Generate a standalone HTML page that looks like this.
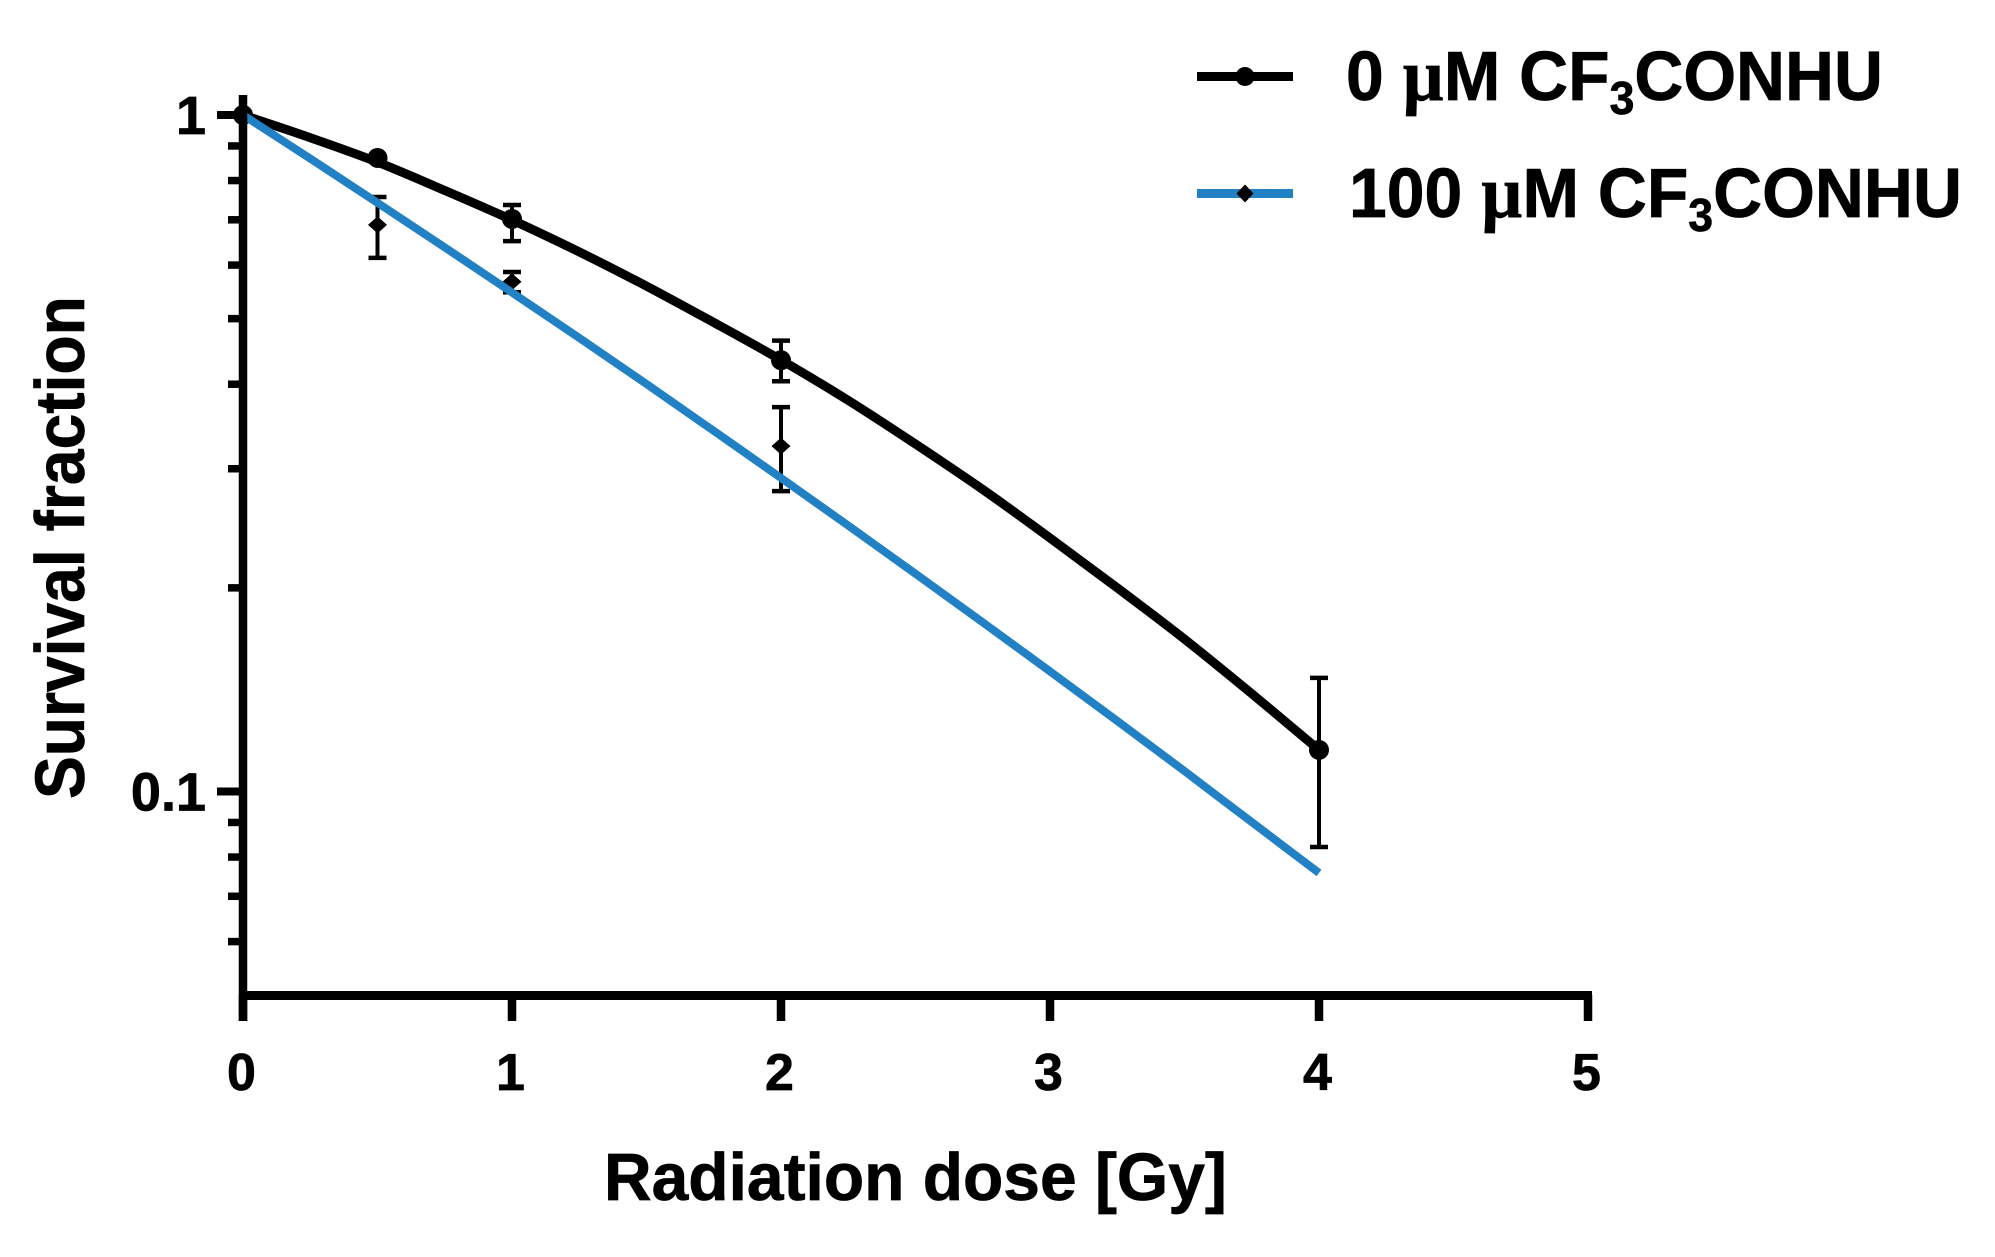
<!DOCTYPE html>
<html lang="en">
<head>
<meta charset="utf-8">
<title>Survival fraction vs radiation dose</title>
<style>
  html, body { margin: 0; padding: 0; background: #fff; }
  svg { display: block; }
  text { font-family: "Liberation Sans", Arial, sans-serif; font-weight: 700; fill: #000; stroke: #000; stroke-width: 0.7px; }
  .mu { font-family: "Liberation Serif", "Times New Roman", serif; font-weight: 700; font-size: 74px; }
  .sub { font-size: 46px; }
</style>
</head>
<body>
<svg id="chart" xmlns="http://www.w3.org/2000/svg" width="1995" height="1257" viewBox="0 0 1995 1257">
  <rect x="0" y="0" width="1995" height="1257" fill="#ffffff"/>
  <g id="errors"></g>
  <g id="curves"></g>
  <g id="axes"></g>
  <text id="xTitle" font-size="67">Radiation dose [Gy]</text>
  <text id="yTitle" font-size="70">Survival fraction</text>
  <g>
    <g>
      <line x1="1197" x2="1293" y1="76.5" y2="76.5" stroke="#000" stroke-width="9"/>
      <circle cx="1245" cy="76.5" r="9.5" fill="#000"/>
      <text id="leg0" font-size="70">0 <tspan class="mu">µ</tspan>M CF<tspan class="sub" dy="14">3</tspan><tspan dy="-14">CONHU</tspan></text>
    </g>
    <g>
      <line x1="1197" x2="1293" y1="193.5" y2="193.5" stroke="#2181c4" stroke-width="9"/>
      <polygon points="1236.5,193.5 1245,184.5 1253.5,193.5 1245,202.5" fill="#000"/>
      <text id="leg1" font-size="70">100 <tspan class="mu">µ</tspan>M CF<tspan class="sub" dy="14">3</tspan><tspan dy="-14">CONHU</tspan></text>
    </g>
  </g>
</svg>
<script>
// ---- data ----
const xTickValues = [0, 1, 2, 3, 4, 5];
const xTickLabels = ["0", "1", "2", "3", "4", "5"];
const yMajorValues = [1, 0.1];
const yMajorLabels = ["1", "0.1"];
const yMinorValues = [0.9, 0.8, 0.7, 0.6, 0.5, 0.4, 0.3, 0.2, 0.09, 0.08, 0.07, 0.06];

const pointDoses = [0, 0.5, 1, 2, 4];
const control = [1, 0.864, 0.702, 0.434, 0.1152];
const controlHigh = [1, 0.864, 0.736, 0.464, 0.1472];
const controlLow = [1, 0.864, 0.651, 0.404, 0.0828];

const treatedDoses = [0, 0.5, 1, 2];
const treated = [1, 0.688, 0.567, 0.324];
const treatedHigh = [1, 0.7565, 0.586, 0.370];
const treatedLow = [1, 0.615, 0.547, 0.278];

const curveDoses = [0, 0.25, 0.5, 0.75, 1, 1.25, 1.5, 1.75, 2, 2.25, 2.5, 2.75, 3, 3.25, 3.5, 3.75, 4];
const controlCurve = [1, 0.9257, 0.852, 0.7735, 0.6996, 0.6275, 0.5585, 0.4935, 0.4343, 0.3785, 0.3263, 0.2795, 0.237, 0.2, 0.168, 0.1395, 0.1152];
const treatedCurve = [1, 0.862, 0.7416, 0.6373, 0.5466, 0.4683, 0.4003, 0.3412, 0.2907, 0.2472, 0.2098, 0.1778, 0.1505, 0.1271, 0.1072, 0.0901, 0.0758];

// ---- axis functions ----
const NS = "http://www.w3.org/2000/svg";
function xPos(d) { return 243 + 269 * d; }
function yPos(v) { return 115 - 676.5 * Math.log10(v); }

function mk(tag, parent, attrs) {
  const el = document.createElementNS(NS, tag);
  for (const k in attrs) el.setAttribute(k, attrs[k]);
  parent.appendChild(el);
  return el;
}

const axes = document.getElementById("axes");
const errors = document.getElementById("errors");
const curves = document.getElementById("curves");

// axis lines
const yAxisLine = mk("line", axes, { x1: 243, x2: 243, y1: 95, y2: 1021, stroke: "#000", "stroke-width": 8.5 });


const xAxisLine = mk("line", axes, { x1: 239, x2: 1592, y1: 995.5, y2: 995.5, stroke: "#000", "stroke-width": 9 });



// x ticks
xTickValues.forEach(function (d, i) {
  const tick = mk("line", axes, { x1: xPos(d), x2: xPos(d), y1: 995, y2: 1021, stroke: "#000", "stroke-width": 8.5 });
  
  
  const label = mk("text", axes, { x: xPos(d) - 1.5, y: 1090, "text-anchor": "middle", "font-size": 52 });
  
  
  label.textContent = xTickLabels[i];
});

// y major ticks
yMajorValues.forEach(function (v, i) {
  const tick = mk("line", axes, { x1: 217, x2: 243, y1: yPos(v), y2: yPos(v), stroke: "#000", "stroke-width": 8 });
  
  
  const label = mk("text", axes, { x: 206, y: yPos(v) + 19, "text-anchor": "end", "font-size": 54 });
  
  
  label.textContent = yMajorLabels[i];
});

// y minor ticks
yMinorValues.forEach(function (v) {
  const tick = mk("line", axes, { x1: 228, x2: 243, y1: yPos(v), y2: yPos(v), stroke: "#000", "stroke-width": 7.5 });
  
  
});

// error bars + markers
function drawErr(d, hi, lo, seriesName) {
  if (hi === lo) return;
  const x = xPos(d), yh = yPos(hi), yl = yPos(lo);
  const stem = mk("line", errors, { x1: x, x2: x, y1: yh, y2: yl, stroke: "#000", "stroke-width": 4 });
  
  
  const capHigh = mk("line", errors, { x1: x - 9, x2: x + 9, y1: yh, y2: yh, stroke: "#000", "stroke-width": 4.5 });
  
  
  const capLow = mk("line", errors, { x1: x - 9, x2: x + 9, y1: yl, y2: yl, stroke: "#000", "stroke-width": 4.5 });
  
  
}

pointDoses.forEach(function (d, i) {
  drawErr(d, controlHigh[i], controlLow[i], 'control');
  const dot = mk("circle", errors, { cx: xPos(d), cy: yPos(control[i]), r: 10, fill: "#000" });
  
  
});

treatedDoses.forEach(function (d, i) {
  drawErr(d, treatedHigh[i], treatedLow[i], 'treated');
  const x = xPos(d), y = yPos(treated[i]);
  const dia = mk("polygon", errors, {
    points: (x - 9.5) + "," + y + " " + x + "," + (y - 8.5) + " " + (x + 9.5) + "," + y + " " + x + "," + (y + 8.5),
    fill: "#000"
  });
  
  
});

// fit curves: smooth path through the sampled values (Catmull-Rom to Bezier)
function curvePath(vals) {
  const p = curveDoses.map(function (d, i) { return [xPos(d), yPos(vals[i])]; });
  let s = "M" + p[0][0].toFixed(1) + " " + p[0][1].toFixed(1);
  for (let i = 0; i < p.length - 1; i++) {
    const a = p[Math.max(i - 1, 0)], b = p[i], c = p[i + 1], e = p[Math.min(i + 2, p.length - 1)];
    s += " C" + (b[0] + (c[0] - a[0]) / 6).toFixed(1) + " " + (b[1] + (c[1] - a[1]) / 6).toFixed(1) +
         " " + (c[0] - (e[0] - b[0]) / 6).toFixed(1) + " " + (c[1] - (e[1] - b[1]) / 6).toFixed(1) +
         " " + c[0].toFixed(1) + " " + c[1].toFixed(1);
  }
  return s;
}
const controlLine = mk("path", curves, { d: curvePath(controlCurve), fill: "none", stroke: "#000", "stroke-width": 9, "stroke-linejoin": "round" });


const treatedLine = mk("path", curves, { d: curvePath(treatedCurve), fill: "none", stroke: "#2181c4", "stroke-width": 8, "stroke-linejoin": "round" });



// fit the wider Liberation glyphs to the measured text extents
function fitText(id, x, y, width, rotate) {
  const el = document.getElementById(id);
  const len = el.getComputedTextLength();
  const s = width / len;
  el.setAttribute("transform", "translate(" + x + "," + y + ")" + (rotate ? " rotate(-90)" : "") + " scale(" + s.toFixed(4) + ",1)");
}
fitText("xTitle", 604, 1200, 623, false);
fitText("yTitle", 84, 799, 503, true);
fitText("leg0", 1346, 100, 537, false);
fitText("leg1", 1349, 217, 613, false);
</script>
</body>
</html>
